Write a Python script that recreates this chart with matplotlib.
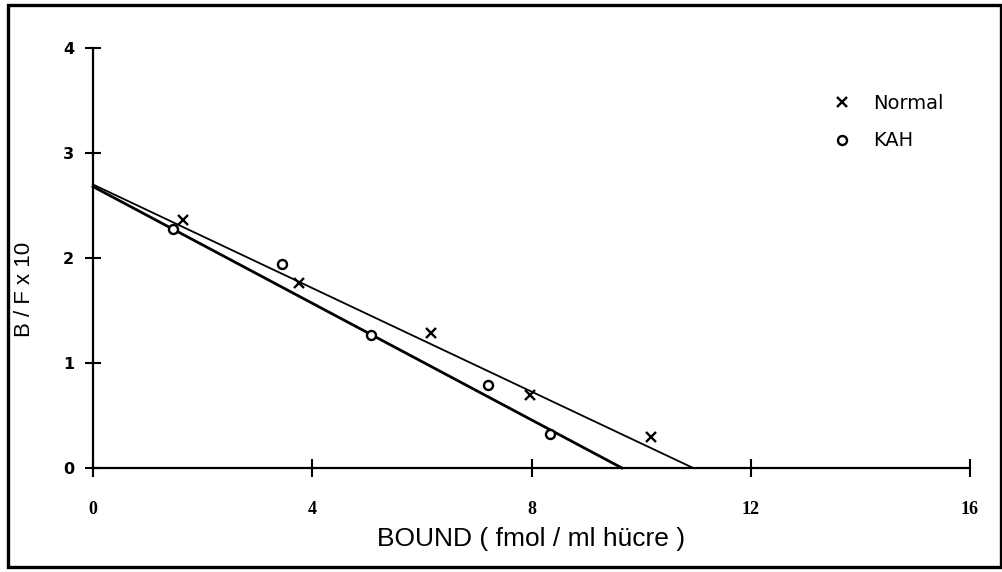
import matplotlib
matplotlib.use('Agg')
import matplotlib.pyplot as plt
from matplotlib.patches import Rectangle

# Data
normal_bound = [1.64, 3.76, 6.17, 7.97, 10.18]
normal_bf = [2.36, 1.76, 1.29, 0.70, 0.30]
kah_bound = [1.46, 3.45, 5.07, 7.21, 8.34]
kah_bf = [2.28, 1.94, 1.27, 0.79, 0.32]

# hand drawn regression lines (ends)
normal_fit_x = [0, 10.95]
normal_fit_y = [2.70, 0]
kah_fit_x = [0, 9.65]
kah_fit_y = [2.68, 0]

xticks = [0, 4, 8, 12, 16]
yticks = [0, 1, 2, 3, 4]

fig = plt.figure(figsize=(10.03, 5.72), dpi=100)
ax = fig.add_axes([93 / 1003, 104 / 572, 877 / 1003, 420 / 572])

ax.plot(normal_fit_x, normal_fit_y, color='black', lw=1.3, clip_on=False)
ax.plot(kah_fit_x, kah_fit_y, color='black', lw=2.0, clip_on=False)
ax.plot(normal_bound, normal_bf, ls='none', marker='x', ms=7, mew=1.7,
        color='black', label='Normal', clip_on=False)
ax.plot(kah_bound, kah_bf, ls='none', marker='o', ms=6.5, mew=1.7,
        mfc='white', color='black', label='KAH', clip_on=False)

ax.set_xlim(0, 16)
ax.set_ylim(0, 4)
ax.set_xticks(xticks)
ax.set_yticks(yticks)
for s in ['top', 'right']:
    ax.spines[s].set_visible(False)
for s in ['left', 'bottom']:
    ax.spines[s].set_linewidth(1.6)
ax.tick_params(axis='y', direction='inout', length=11, width=1.5, pad=8)
ax.tick_params(axis='x', direction='inout', length=13, width=1.5, pad=17)
for t in ax.get_yticklabels():
    t.set_fontfamily('DejaVu Sans')
    t.set_fontweight('bold')
    t.set_fontsize(11.5)
for t in ax.get_xticklabels():
    t.set_fontfamily('Liberation Serif')
    t.set_fontweight('bold')
    t.set_fontsize(13)

ax.set_xlabel('BOUND ( fmol / ml hücre )', family='Liberation Sans',
              fontsize=19, labelpad=7)
ax.set_ylabel('B / F x 10', family='Liberation Sans', fontsize=16)
ax.yaxis.set_label_coords(-0.066, 0.426)

leg = ax.legend(loc='upper left', bbox_to_anchor=(832 / 1003, 478 / 572),
                bbox_transform=fig.transFigure, frameon=False, borderpad=0,
                borderaxespad=0, handlelength=1.0, handletextpad=1.1,
                labelspacing=0.95, prop={'family': 'DejaVu Sans', 'size': 14})

# scanned page frame
fig.patches.append(Rectangle((8 / 1003, 5 / 572), 993 / 1003, 562 / 572,
                             transform=fig.transFigure, fill=False,
                             edgecolor='black', lw=2.4))

fig.savefig('out.png', dpi=100)
